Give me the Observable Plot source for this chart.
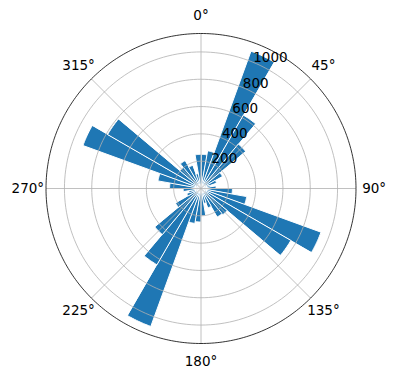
<!DOCTYPE html>
<html>
<head>
<meta charset="utf-8">
<script src="https://cdn.jsdelivr.net/npm/d3@7"></script>
<script src="https://cdn.jsdelivr.net/npm/@observablehq/plot@0.6"></script>
<style>
  html, body { margin: 0; padding: 0; background: #fff; }
  #chart svg { display: block; }
</style>
</head>
<body>
<div id="chart"></div>
<script>
// Bin start directions (degrees, clockwise from north), 10° wide bins
const directions = [0,10,20,30,40,50,60,70,80,90,100,110,120,130,140,150,160,170,
                    180,190,200,210,220,230,240,250,260,270,280,290,300,310,320,330,340,350];
// Bar heights
const counts = [250,280,1070,620,425,180,120,70,110,230,340,935,760,250,240,150,110,200,
                245,260,1075,645,440,215,110,90,130,230,320,920,790,200,235,180,110,250];
const binWidth = 10;
const rTicks = [200, 400, 600, 800, 1000];
const thetaTicks = [0, 45, 90, 135, 180, 225, 270, 315];
const thetaLabels = ["0°", "45°", "90°", "135°", "180°", "225°", "270°", "315°"];
const rMax = 1135;
const rLabelAngle = 22.5;

const rad = d => d * Math.PI / 180;
const px = d => d.r * Math.sin(rad(d.theta));
const py = d => d.r * Math.cos(rad(d.theta));

// polygons for bars (wedges)
const barPts = [];
directions.forEach((a, i) => {
  barPts.push({bar: i, theta: a, r: 0});
  const n = 10;
  for (let k = 0; k <= n; k++) barPts.push({bar: i, theta: a + binWidth * k / n, r: counts[i]});
});

// circles
const circlePts = [];
rTicks.forEach((r, i) => {
  for (let k = 0; k < 360; k += 2) circlePts.push({ring: i, theta: k, r});
});
const outerPts = [];
for (let k = 0; k < 360; k += 1) outerPts.push({theta: k, r: rMax});

const spokes = thetaTicks.map(t => ({theta: t, r: rMax}));
const tLabels = thetaTicks.map((t, i) => ({theta: t, r: rMax * 1.117, label: thetaLabels[i]}));
const rLabels = rTicks.map(r => ({theta: rLabelAngle, r, label: String(r)}));

const chart = Plot.plot({
  width: 396,
  height: 380,
  marginLeft: 45.5,
  marginRight: 40.5,
  marginTop: 33,
  marginBottom: 37,
  x: {domain: [-rMax, rMax], axis: null},
  y: {domain: [-rMax, rMax], axis: null},
  style: {fontFamily: "DejaVu Sans", fontSize: "13.5px", color: "black", background: "white"},
  marks: [
    Plot.line(barPts, {x: px, y: py, z: "bar", fill: "#1f77b4", stroke: "white", strokeWidth: 1, curve: "linear-closed"}),
    Plot.line(circlePts, {x: px, y: py, z: "ring", stroke: "#b0b0b0", strokeWidth: 0.8, curve: "linear-closed"}),
    Plot.link(spokes, {x1: 0, y1: 0, x2: px, y2: py, stroke: "#b0b0b0", strokeWidth: 0.8}),
    Plot.line(outerPts, {x: px, y: py, stroke: "black", strokeWidth: 0.8, curve: "linear-closed"}),
    Plot.text(tLabels, {x: px, y: py, text: "label", fill: "black", fontSize: 13.5}),
    Plot.text(rLabels, {x: px, y: py, text: "label", fill: "black", fontSize: 13.5, textAnchor: "start", lineAnchor: "bottom"})
  ]
});
document.getElementById("chart").appendChild(chart);
</script>
</body>
</html>
